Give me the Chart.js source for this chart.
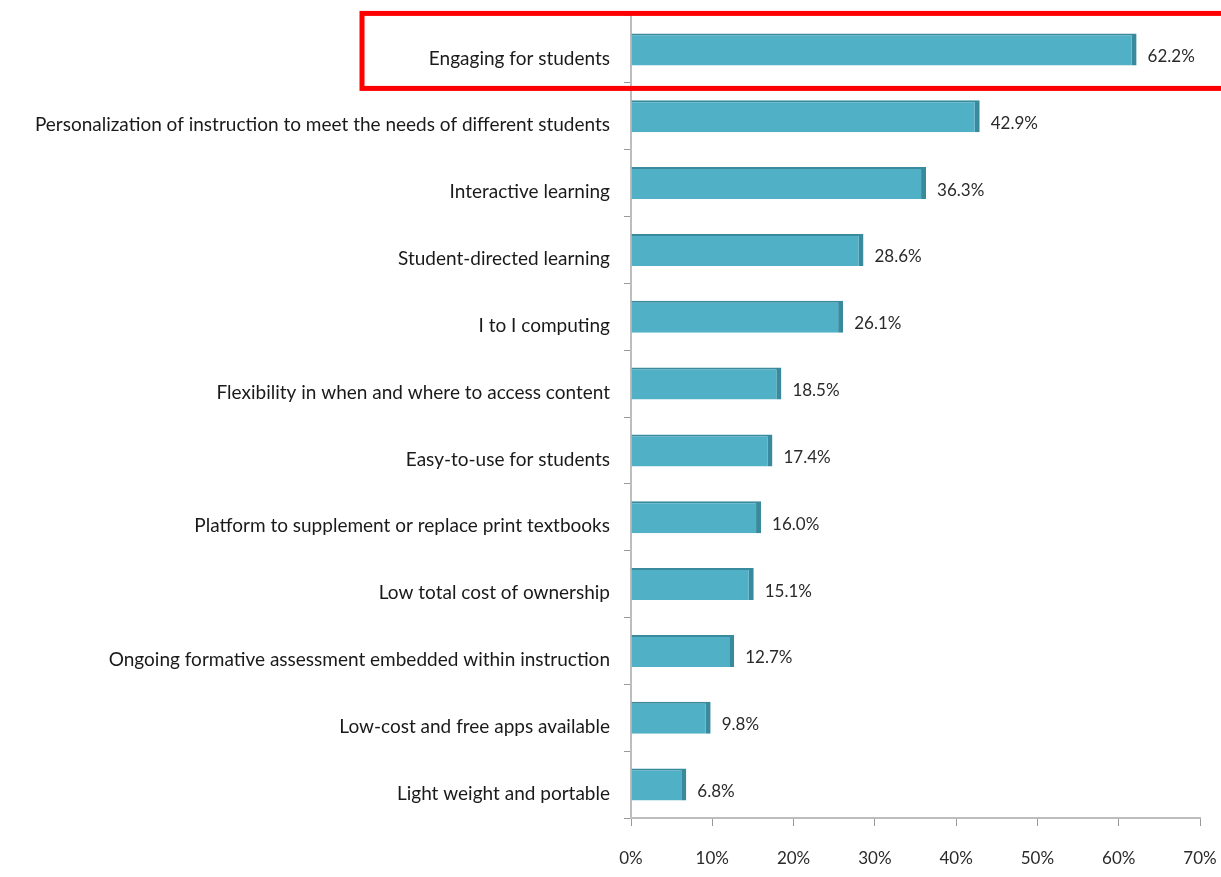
<!DOCTYPE html>
<html>
<head>
<meta charset="utf-8">
<script src="https://cdn.jsdelivr.net/npm/chart.js@4/dist/chart.umd.min.js"></script>
<style>
  html, body { margin: 0; padding: 0; background: #fff; }
  #wrap { width: 1221px; height: 877px; }
</style>
</head>
<body>
<div id="wrap"><canvas id="barChart"></canvas></div>
<script>
const categories = [
  "Engaging for students",
  "Personalization of instruction to meet the needs of different students",
  "Interactive learning",
  "Student-directed learning",
  "I to I computing",
  "Flexibility in when and where to access content",
  "Easy-to-use for students",
  "Platform to supplement or replace print textbooks",
  "Low total cost of ownership",
  "Ongoing formative assessment embedded within instruction",
  "Low-cost and free apps available",
  "Light weight and portable"
];
const percentages = [62.2, 42.9, 36.3, 28.6, 26.1, 18.5, 17.4, 16.0, 15.1, 12.7, 9.8, 6.8];
const xTicks = [0, 10, 20, 30, 40, 50, 60, 70];
const highlighted = 0;

const fontFamily = "Lato, 'Open Sans', sans-serif";

// value labels at the end of each bar
const valueLabels = {
  id: "valueLabels",
  afterDatasetsDraw(chart) {
    const ctx = chart.ctx;
    const meta = chart.getDatasetMeta(0);
    ctx.save();
    ctx.font = "17px " + fontFamily;
    ctx.fillStyle = "#2a2a2a";
    ctx.textAlign = "left";
    ctx.textBaseline = "middle";
    meta.data.forEach((bar, i) => {
      ctx.fillText(percentages[i].toFixed(1) + "%", bar.x + 11, bar.y + 7);
    });
    ctx.restore();
  }
};

// red box round the highlighted row
const highlightBox = {
  id: "highlightBox",
  afterDraw(chart) {
    const ctx = chart.ctx;
    const y = chart.scales.y.getPixelForValue(highlighted);
    const left = chart.chartArea.left - 269;
    ctx.save();
    ctx.strokeStyle = "#ff0000";
    ctx.lineWidth = 5;
    ctx.strokeRect(left, y - 36, chart.width - left + 10, 75);
    ctx.restore();
  }
};

new Chart(document.getElementById("barChart").getContext("2d"), {
  type: "bar",
  data: {
    labels: categories,
    datasets: [{
      data: percentages,
      backgroundColor: "#4fb0c6",
      borderColor: "#3a8a9e",
      borderWidth: { top: 2, right: 5, bottom: 0, left: 0 },
      borderSkipped: false,
      categoryPercentage: 1,
      barPercentage: 0.48
    }]
  },
  plugins: [valueLabels, highlightBox],
  options: {
    indexAxis: "y",
    responsive: true,
    maintainAspectRatio: false,
    animation: false,
    layout: { padding: { left: 0, right: 21, top: 16, bottom: 0 } },
    plugins: {
      legend: { display: false },
      tooltip: { enabled: false }
    },
    scales: {
      x: {
        min: 0,
        max: 70,
        afterBuildTicks: (scale) => {
          scale.ticks = xTicks.map(v => ({ value: v }));
        },
        afterFit: (scale) => {
          scale.height = 59;
          scale.paddingLeft = 0;
          scale.paddingRight = 0;
        },
        border: { color: "#bdbdbd", width: 2 },
        grid: { drawOnChartArea: false, color: "#999", tickLength: 8 },
        ticks: {
          padding: 22,
          color: "#2a2a2a",
          font: { size: 17, family: fontFamily },
          callback: (v) => v + "%"
        }
      },
      y: {
        afterFit: (scale) => {
          scale.width = 631;
          scale.paddingTop = 0;
          scale.paddingBottom = 0;
        },
        border: { color: "#bdbdbd", width: 2 },
        grid: { drawOnChartArea: false, offset: true, color: "#999", tickLength: 7 },
        ticks: {
          padding: 14,
          labelOffset: 9,
          color: "#1a1a1a",
          font: { size: 19, family: fontFamily }
        }
      }
    }
  }
});
</script>
</body>
</html>
